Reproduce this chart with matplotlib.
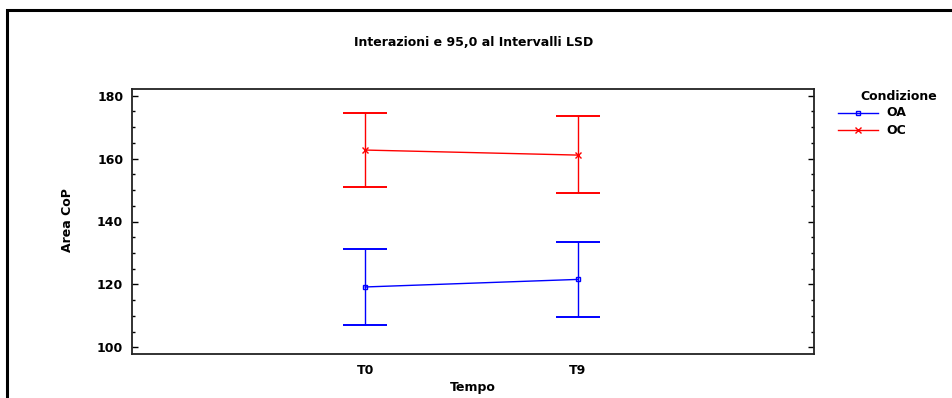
import numpy as np
import matplotlib
matplotlib.use("Agg")
import matplotlib.pyplot as plt
from matplotlib.lines import Line2D
from matplotlib.patches import Rectangle
from matplotlib.ticker import MultipleLocator

plt.rcParams['font.family'] = ['DejaVu Sans']
plt.rcParams['font.weight'] = 'bold'

# LSD interval data (95%) for Area CoP by Tempo and Condizione
tempo = ['T0', 'T9']
oa_mean = [119.2, 121.6]
oa_low = [107.1, 109.5]
oa_high = [131.3, 133.6]
oc_mean = [162.7, 161.1]
oc_low = [150.9, 148.9]
oc_high = [174.4, 173.4]

W, H = 952, 398
fig = plt.figure(figsize=(W / 100, H / 100), dpi=100)
ax = fig.add_axes([132 / W, 1 - 354 / H, (814 - 132) / W, (354 - 89) / H])

x = np.arange(len(tempo))
series = [
    ('OA', oa_mean, oa_low, oa_high, '#0000ff', 's', 3.5),
    ('OC', oc_mean, oc_low, oc_high, '#ff0000', 'x', 4.5),
]
for name, m, lo, hi, col, mk, ms in series:
    m = np.array(m)
    yerr = [m - np.array(lo), np.array(hi) - m]
    ax.errorbar(x, m, yerr=yerr, fmt='none', ecolor=col, elinewidth=1.0,
                capsize=15.5, capthick=1.4)
    ax.plot(x, m, color=col, lw=1.0, marker=mk, ms=ms,
            mfc='none', mec=col, mew=1.0)

ax.set_xlim(-1.097, 2.11)
ax.set_ylim(97.9, 182.1)
ax.set_xticks(x)
ax.set_xticklabels(tempo)
ax.yaxis.set_major_locator(MultipleLocator(20))
ax.yaxis.set_minor_locator(MultipleLocator(5))
ax.tick_params(axis='x', length=0, pad=7, labelsize=9)
ax.tick_params(axis='y', which='major', direction='in', length=4, width=1,
               right=True, labelsize=9, pad=6.3)
ax.tick_params(axis='y', which='minor', direction='in', length=2.2, width=1,
               right=True)
for s in ax.spines.values():
    s.set_linewidth(1.3)
    s.set_color('#222222')

ax.set_xlabel('Tempo', fontsize=9, fontweight='bold')
ax.set_ylabel('Area CoP', fontsize=9, fontweight='bold')
ax.xaxis.set_label_coords(0.5, -(387 - 354) / 265, transform=ax.transAxes)
ax.xaxis.label.set_va('center')
ax.yaxis.set_label_coords((68 - 132) / 682, (354 - 220) / 265,
                          transform=ax.transAxes)
ax.yaxis.label.set_va('center')
fig.text(474 / W, 1 - 43 / H, 'Interazioni e 95,0 al Intervalli LSD',
         ha='center', va='center', fontsize=9, fontweight='bold')

# legend on the right
fig.text(860 / W, 1 - 96 / H, 'Condizione', ha='left', va='center',
         fontsize=9, fontweight='bold')
for i, (name, m, lo, hi, col, mk, ms) in enumerate(series):
    yy = 1 - (113 + 17 * i) / H
    fig.add_artist(Line2D([838 / W, 878 / W], [yy, yy], color=col, lw=1.0,
                          transform=fig.transFigure))
    fig.add_artist(Line2D([858 / W], [yy], color=col, marker=mk, ms=ms,
                          mfc='none', mec=col, mew=1.0,
                          transform=fig.transFigure))
    fig.text(886 / W, yy, name, ha='left', va='center', fontsize=9,
             fontweight='bold')

# outer frame
fig.add_artist(Rectangle((6.5 / W, -0.1), 1.2, 1 - 10.5 / H + 0.1,
                         transform=fig.transFigure, fill=False,
                         edgecolor='black', lw=2.2))

fig.savefig('out.png', dpi=100)
